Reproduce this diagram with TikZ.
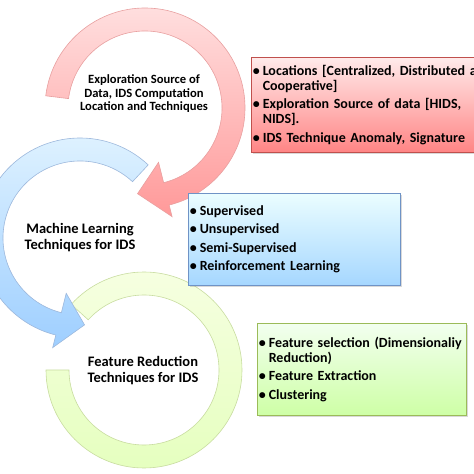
\documentclass[tikz,border=0pt]{standalone}
\usepackage{fontspec}
\setmainfont{Carlito}
\usetikzlibrary{shadows}

\definecolor{redline}{HTML}{E8A0A0}
\definecolor{blueline}{HTML}{9DB8DC}
\definecolor{greenline}{HTML}{C8DCA0}
\definecolor{rededge}{HTML}{C0504D}
\definecolor{blueedge}{HTML}{6F93C6}
\definecolor{greenedge}{HTML}{9BBB59}

\begin{document}
\begin{tikzpicture}
  [x=1pt,y=1pt,font=\bfseries,
   ring/.style={line width=0.6pt},
   ringtext/.style={align=center,font=\fontsize{14.5}{16}\selectfont\bfseries},
   infobox/.style={draw,line width=0.6pt,anchor=north west,align=left,
     inner xsep=1.5pt,inner ysep=0pt,
     drop shadow={shadow xshift=2pt,shadow yshift=-2pt,opacity=0.3},
     font=\fontsize{14}{15}\selectfont\bfseries}]
  \useasboundingbox (0,0) rectangle (474,474);
  \newcommand\bul{\textbullet\hspace{3pt}}
  \newcommand\ind{\phantom{\bul}}

  % rings
  \draw[ring,draw=greenline,top color=green!30!yellow!12,bottom color=green!40!yellow!25,shift={(144,104)}]
    (180:98pt) arc[start angle=180,end angle=498,radius=98pt] -- (498:75pt)
    arc[start angle=498,end angle=180,radius=75pt] -- cycle;
  \draw[ring,draw=blueline,top color=blue!40!cyan!12,bottom color=blue!50!cyan!38,shift={(80,236)}]
    (47:100pt) arc[start angle=47,end angle=256,radius=100pt] -- (256:113pt) -- (273:87pt)
    -- (256:57pt) -- (256:77pt) arc[start angle=256,end angle=47,radius=77pt] -- cycle;
  \draw[ring,draw=redline,top color=red!12,bottom color=red!40,shift={(145,366)}]
    (173:100pt) arc[start angle=173,end angle=-76,radius=100pt] -- (-76:112pt) -- (-95:86pt)
    -- (-76:56pt) -- (-76:77pt) arc[start angle=-76,end angle=173,radius=77pt] -- cycle;

  % ring texts
  \node[ringtext,font=\fontsize{12.6}{13.5}\selectfont\bfseries] (la) at (144,380)
    {Exploration Source of\\Data, IDS Computation\\Location and Techniques};
  \node[ringtext] (lb) at (80,236) {Machine Learning\\Techniques for IDS};
  \node[ringtext] (lc) at (143,103) {Feature Reduction\\Techniques for IDS};

  % boxes
  \node[infobox,draw=rededge,top color=red!8,bottom color=red!48,
    text width=240pt,minimum height=95pt] (ba) at (251,417)
    {\bul Locations [Centralized, Distributed a\\\ind Cooperative]\\[3.5pt]
     \bul Exploration Source of data [HIDS,\\\ind NIDS].\\[3.5pt]
     \bul IDS Technique Anomaly, Signature};
  \node[infobox,draw=blueedge,top color=blue!8!cyan!8,bottom color=blue!45!cyan!35,
    text width=209pt,minimum height=92pt] (bb) at (188,281)
    {\bul Supervised\\[3.5pt]\bul Unsupervised\\[3.5pt]
     \bul Semi-Supervised\\[3.5pt]\bul Reinforcement Learning};
  \node[infobox,draw=greenedge,top color=yellow!15!green!6,bottom color=yellow!45!green!35,
    text width=206pt,minimum height=92pt] (bc) at (257,151)
    {\bul Feature selection (Dimensionaliy\\\ind Reduction)\\[3.5pt]
     \bul Feature Extraction\\[3.5pt]\bul Clustering};
\end{tikzpicture}
\end{document}
